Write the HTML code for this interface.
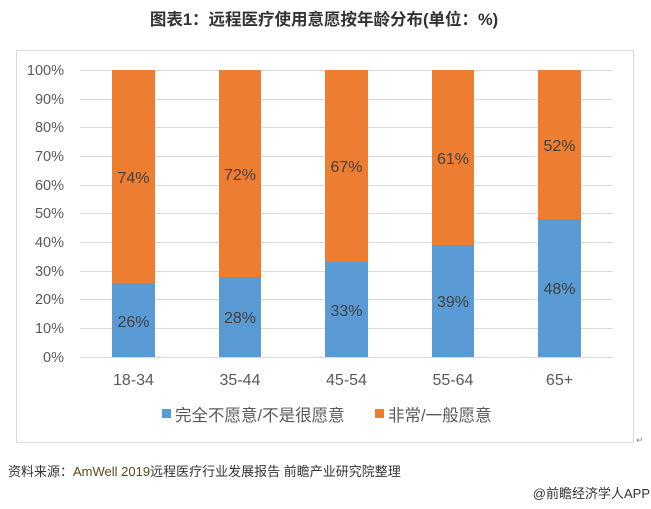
<!DOCTYPE html>
<html><head><meta charset="utf-8"><style>
body{margin:0;background:#fff;width:651px;height:504px;overflow:hidden;font-family:"Liberation Sans","Noto Sans CJK SC",sans-serif;}
</style></head><body>
<svg width="651" height="504" xmlns="http://www.w3.org/2000/svg" font-family="'Liberation Sans','Noto Sans CJK SC',sans-serif">
<text x="324" y="25" text-anchor="middle" font-size="16.5" font-weight="bold" fill="#333">图表1：远程医疗使用意愿按年龄分布(单位：%)</text>
<rect x="16.5" y="50.5" width="617" height="392" fill="none" stroke="#d9d9d9"/>
<g stroke="#d9d9d9" stroke-width="1">
<line x1="80" x2="613" y1="70.5" y2="70.5"/><line x1="80" x2="613" y1="99.5" y2="99.5"/><line x1="80" x2="613" y1="127.5" y2="127.5"/><line x1="80" x2="613" y1="156.5" y2="156.5"/><line x1="80" x2="613" y1="185.5" y2="185.5"/><line x1="80" x2="613" y1="213.5" y2="213.5"/><line x1="80" x2="613" y1="242.5" y2="242.5"/><line x1="80" x2="613" y1="271.5" y2="271.5"/><line x1="80" x2="613" y1="299.5" y2="299.5"/><line x1="80" x2="613" y1="328.5" y2="328.5"/><line x1="80" x2="613" y1="357.5" y2="357.5"/>
</g>
<g font-size="14.5" fill="#595959" text-anchor="end">
<text x="64" y="75">100%</text><text x="64" y="104">90%</text><text x="64" y="132">80%</text><text x="64" y="161">70%</text><text x="64" y="190">60%</text><text x="64" y="218">50%</text><text x="64" y="247">40%</text><text x="64" y="276">30%</text><text x="64" y="304">20%</text><text x="64" y="333">10%</text><text x="64" y="362">0%</text>
</g>
<g>
<rect x="112" y="70" width="43" height="213" fill="#ed7d31"/><rect x="112" y="283" width="43" height="74" fill="#5b9bd5"/>
<rect x="219" y="70" width="42" height="207" fill="#ed7d31"/><rect x="219" y="277" width="42" height="80" fill="#5b9bd5"/>
<rect x="325" y="70" width="43" height="192" fill="#ed7d31"/><rect x="325" y="262" width="43" height="95" fill="#5b9bd5"/>
<rect x="432" y="70" width="42" height="175" fill="#ed7d31"/><rect x="432" y="245" width="42" height="112" fill="#5b9bd5"/>
<rect x="538" y="70" width="43" height="149" fill="#ed7d31"/><rect x="538" y="219" width="43" height="138" fill="#5b9bd5"/>
</g>
<g font-size="16" fill="#404040" text-anchor="middle">
<text x="133.5" y="183">74%</text><text x="133.5" y="327">26%</text>
<text x="240" y="180">72%</text><text x="240" y="323">28%</text>
<text x="346.5" y="172">67%</text><text x="346.5" y="316">33%</text>
<text x="453" y="164">61%</text><text x="453" y="307">39%</text>
<text x="559.5" y="151">52%</text><text x="559.5" y="294">48%</text>
</g>
<g font-size="16" fill="#595959" text-anchor="middle">
<text x="133.5" y="385">18-34</text><text x="240" y="385">35-44</text><text x="346.5" y="385">45-54</text><text x="453" y="385">55-64</text><text x="559.5" y="385">65+</text>
</g>
<rect x="162" y="409" width="9" height="9" fill="#5b9bd5"/>
<text x="175" y="421" font-size="16.5" fill="#595959">完全不愿意/不是很愿意</text>
<rect x="375" y="409" width="9" height="9" fill="#ed7d31"/>
<text x="388" y="421" font-size="16.5" fill="#595959">非常/一般愿意</text>
<text x="636" y="443" font-size="9" fill="#888">↵</text>
<text x="8" y="476" font-size="13" fill="#333">资料来源：<tspan fill="#5a4a1a">AmWell 2019</tspan>远程医疗行业发展报告 前瞻产业研究院整理</text>
<text x="650" y="498" font-size="13" fill="#333" text-anchor="end">@前瞻经济学人APP</text>
</svg>
</body></html>
